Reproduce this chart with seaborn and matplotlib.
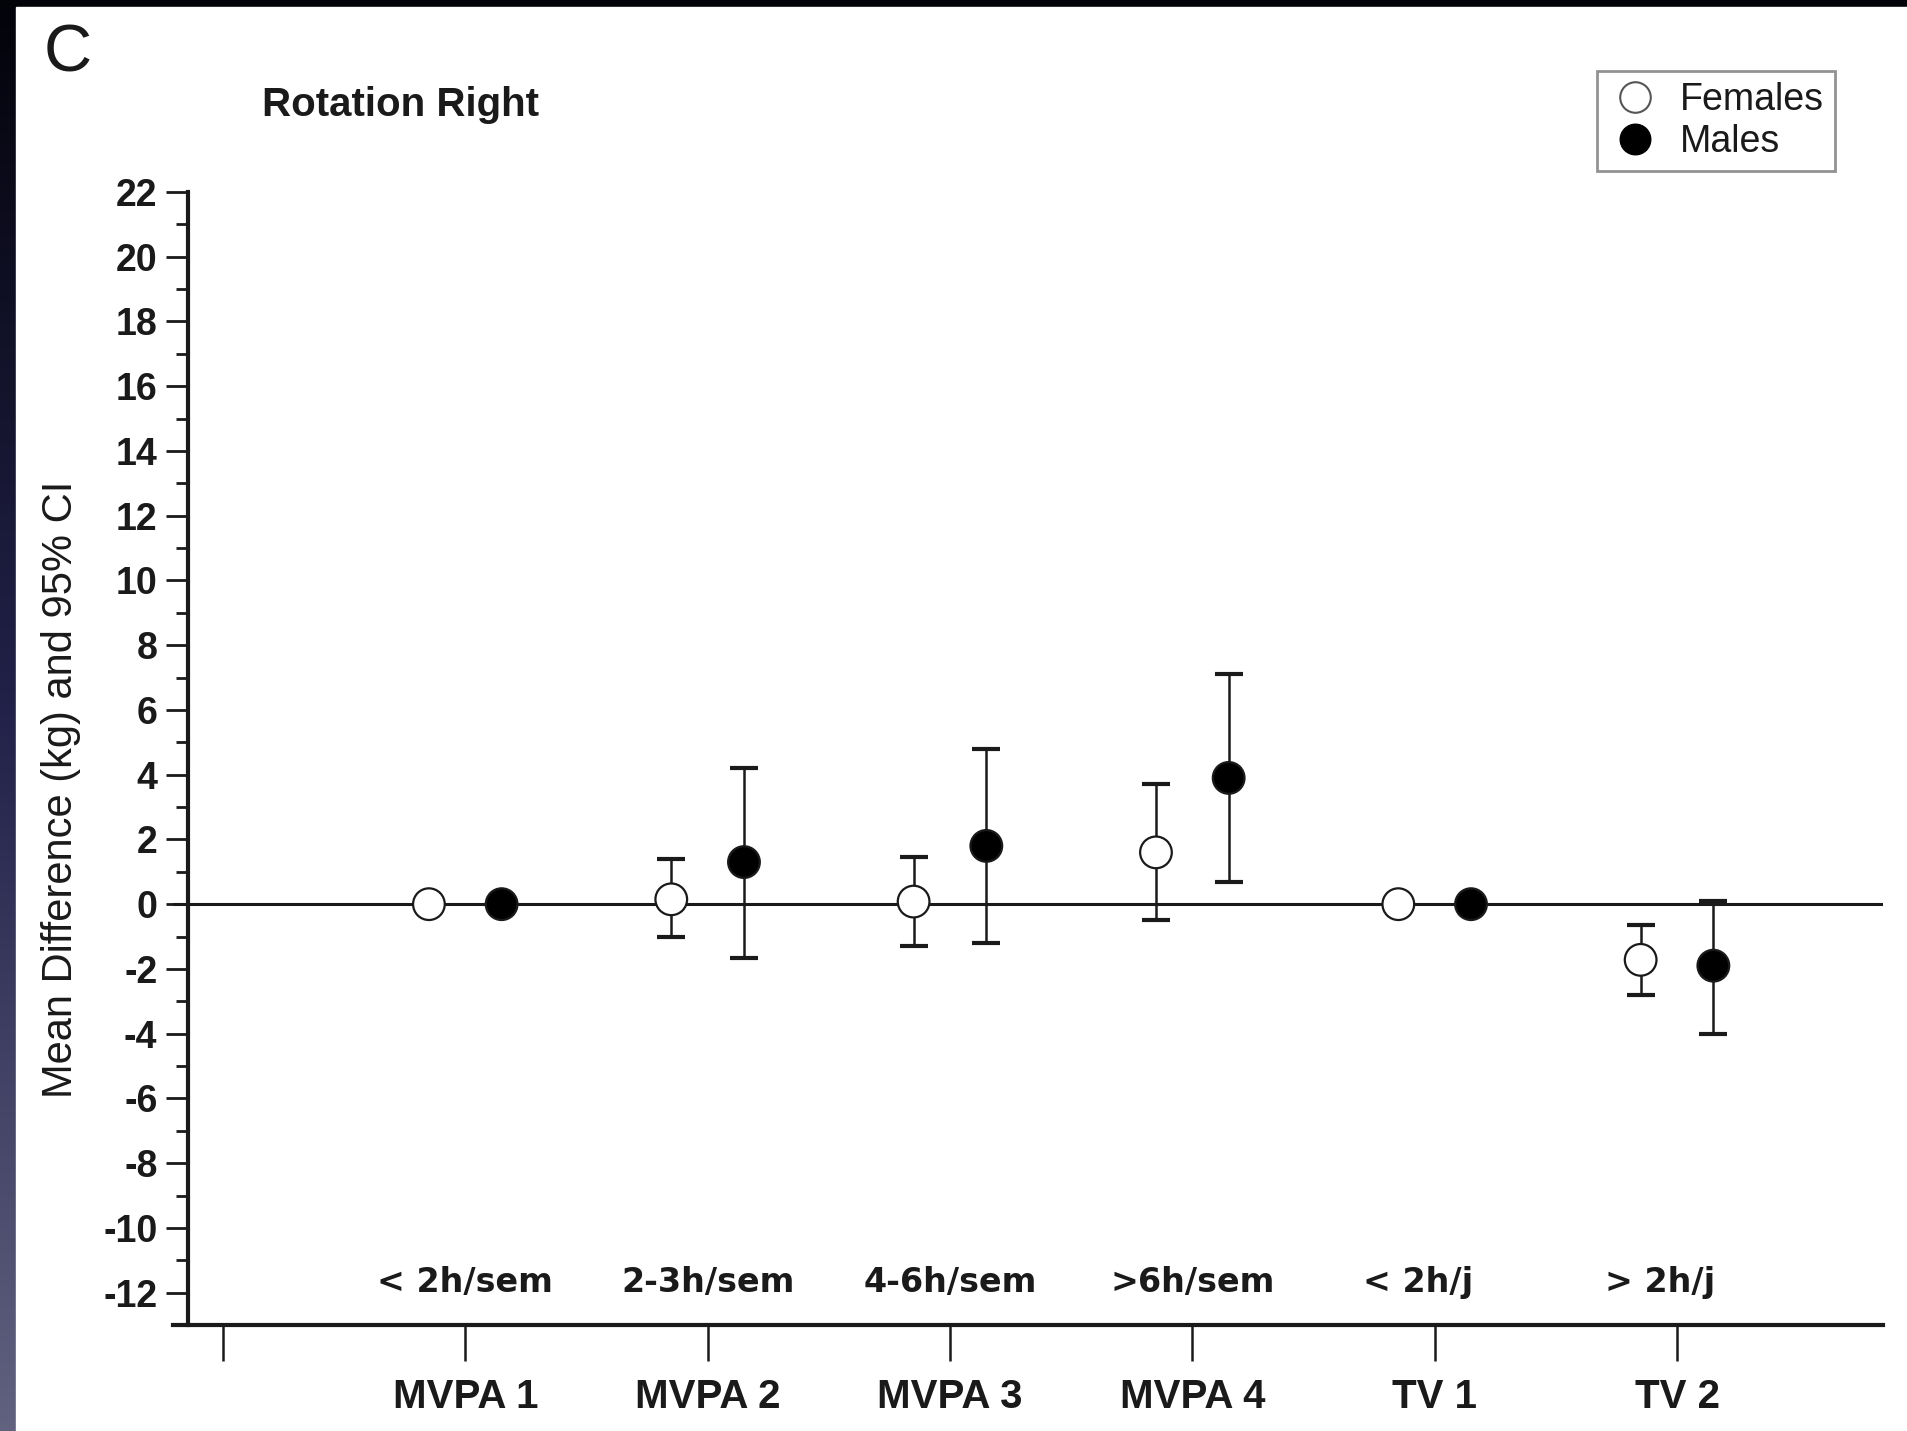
import numpy as np
import pandas as pd
import matplotlib
matplotlib.use("Agg")
import matplotlib.pyplot as plt
from matplotlib.lines import Line2D
import seaborn as sns

# data
groups = ["MVPA 1", "MVPA 2", "MVPA 3", "MVPA 4", "TV 1", "TV 2"]
descr = ["< 2h/sem", "2-3h/sem", "4-6h/sem", ">6h/sem", "< 2h/j", "> 2h/j"]
fem_mean = [0.0, 0.15, 0.08, 1.6, 0.0, -1.72]
fem_low = [np.nan, -1.0, -1.3, -0.5, np.nan, -2.8]
fem_high = [np.nan, 1.4, 1.45, 3.7, np.nan, -0.65]
male_mean = [0.0, 1.3, 1.8, 3.9, 0.0, -1.9]
male_low = [np.nan, -1.65, -1.2, 0.7, np.nan, -4.0]
male_high = [np.nan, 4.2, 4.8, 7.1, np.nan, 0.1]

pos = np.arange(1, len(groups) + 1)
off = 0.15
df = pd.concat([
    pd.DataFrame({"x": pos - off, "mean": fem_mean, "lo": fem_low, "hi": fem_high, "sex": "Females"}),
    pd.DataFrame({"x": pos + off, "mean": male_mean, "lo": male_low, "hi": male_high, "sex": "Males"}),
], ignore_index=True)

sns.set_theme(style="ticks")
plt.rcParams["font.family"] = ["Liberation Sans", "DejaVu Sans"]
plt.rcParams["axes.unicode_minus"] = False
ink = "#1a1a1a"

W, H = 1907, 1431
fig = plt.figure(figsize=(W / 100, H / 100), dpi=100)

# dark slide background with white panel
bg = fig.add_axes([0, 0, 1, 1], zorder=-10)
grad = np.linspace(0, 1, 256)[:, None]
cols = matplotlib.colors.LinearSegmentedColormap.from_list("bg", ["#03030a", "#22224a", "#60627f"])
bg.imshow(grad, aspect="auto", cmap=cols, extent=[0, 1, 0, 1], origin="upper")
bg.add_patch(plt.Rectangle((16 / W, 0), 1, 1 - 7 / H, color="white", transform=bg.transAxes))
bg.set_axis_off()

ax = fig.add_axes([173 / W, 1 - 1325 / H, (1883 - 173) / W, (1325 - 192) / H])
ax.set_facecolor("none")

# error bars
err = df.dropna(subset=["lo"])
ax.errorbar(err["x"], err["mean"], yerr=[err["mean"] - err["lo"], err["hi"] - err["mean"]],
            fmt="none", ecolor=ink, elinewidth=1.8, capsize=10, capthick=3, zorder=2)

ax.axhline(0, color=ink, lw=2.2, zorder=1)

sns.scatterplot(data=df, x="x", y="mean", hue="sex", palette={"Females": "white", "Males": "black"},
                s=520, edgecolor=ink, linewidth=1.6, legend=False, zorder=3, ax=ax)

ax.set_xlim(-0.206, 6.85)
ax.set_ylim(-13, 22)
ax.spines["left"].set_position(("data", -0.144))
ax.spines["left"].set_bounds(-13, 22)
ax.spines["top"].set_visible(False)
ax.spines["right"].set_visible(False)
for s in ["left", "bottom"]:
    ax.spines[s].set_linewidth(3)
    ax.spines[s].set_color(ink)

ax.set_yticks(np.arange(-12, 23, 2))
ax.set_yticks(np.arange(-13, 22, 1), minor=True)
ax.tick_params(axis="y", which="major", length=16, width=2, labelsize=27, colors=ink, pad=6)
ax.tick_params(axis="y", which="minor", length=9, width=2, colors=ink)
for lab in ax.get_yticklabels():
    lab.set_fontweight("semibold")
ax.set_xticks(np.arange(0, len(groups) + 1))
ax.set_xticklabels([""] + groups, fontweight="bold")
ax.tick_params(axis="x", length=26, width=1.8, labelsize=29, colors=ink, pad=12)

for p, t in zip(pos, descr):
    ax.text(p - (0.07 if "j" in t else 0), -11.7, t, ha="center", va="center", fontsize=24,
            fontweight="bold", family="DejaVu Sans", color=ink)

ax.set_xlabel("")
ax.set_ylabel("")
fig.text(61 / W, 1 - 789 / H, "Mean Difference (kg) and 95% CI", rotation=90, ha="center", va="center",
         fontsize=30, color=ink)
fig.text(400 / W, 1 - 105 / H, "Rotation Right", ha="center", va="center", fontsize=29,
         fontweight="bold", color=ink)
fig.text(44 / W, 1 - 55 / H, "C", ha="left", va="center", fontsize=48, color=ink)

handles = [Line2D([], [], ls="none", marker="o", ms=22, mfc="white", mec="#555555", mew=1.5),
           Line2D([], [], ls="none", marker="o", ms=22, mfc="black", mec="black")]
leg = fig.legend(handles, ["Females", "Males"], loc="upper right",
                 bbox_to_anchor=(1835 / W, 1 - 71 / H), fontsize=27, frameon=True, fancybox=False,
                 handletextpad=0.5, borderpad=0.3, labelspacing=0.15, handlelength=1.4,
                 borderaxespad=0)
leg.get_frame().set_edgecolor("#777777")
leg.get_frame().set_linewidth(2)
for t in leg.get_texts():
    t.set_color(ink)

fig.savefig("out.png", dpi=100)
